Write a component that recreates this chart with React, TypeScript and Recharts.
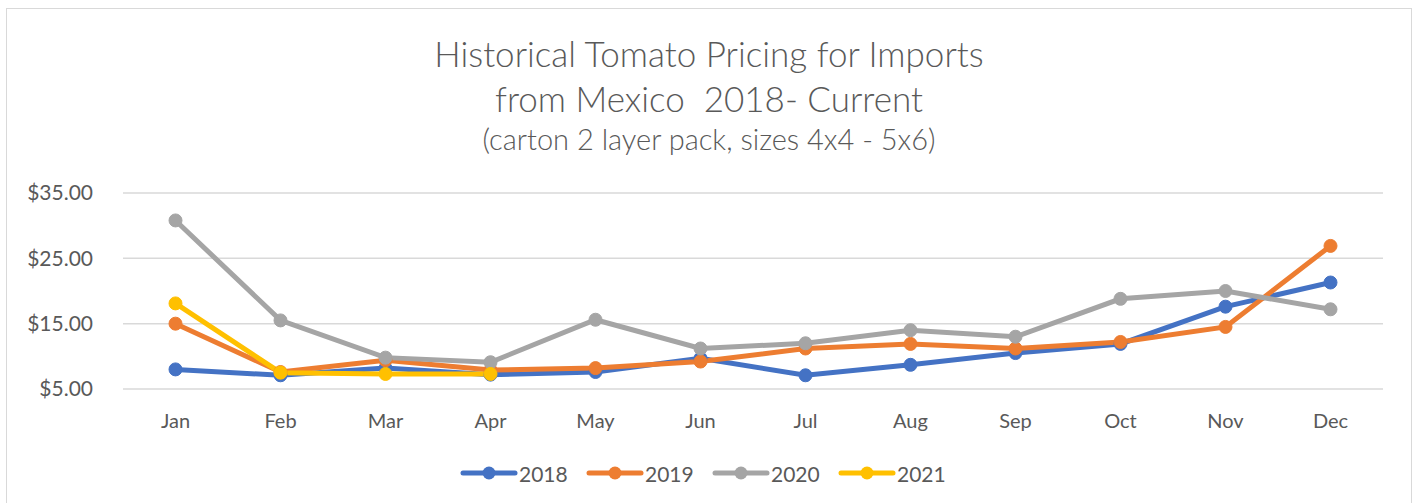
import { CartesianGrid, Line, LineChart, XAxis, YAxis } from "recharts"

const months = ["Jan", "Feb", "Mar", "Apr", "May", "Jun", "Jul", "Aug", "Sep", "Oct", "Nov", "Dec"]

const prices2018 = [8.0, 7.1, 8.2, 7.2, 7.6, 9.7, 7.1, 8.7, 10.5, 11.9, 17.6, 21.3]
const prices2019 = [15.0, 7.6, 9.4, 7.9, 8.2, 9.2, 11.2, 11.9, 11.2, 12.2, 14.5, 26.9]
const prices2020 = [30.8, 15.5, 9.8, 9.1, 15.6, 11.2, 12.0, 14.0, 13.0, 18.8, 20.0, 17.2]
const prices2021 = [18.1, 7.5, 7.3, 7.3, null, null, null, null, null, null, null, null]

const yTicks = [5, 15, 25, 35]

const series = [
  { key: "2018", values: prices2018, color: "#4472C4" },
  { key: "2019", values: prices2019, color: "#ED7D31" },
  { key: "2020", values: prices2020, color: "#A5A5A5" },
  { key: "2021", values: prices2021, color: "#FFC000" },
]

const data = months.map((month, i) => {
  const row: Record<string, string | number | null> = { month }
  series.forEach((s) => {
    row[s.key] = s.values[i]
  })
  return row
})

const font = "Lato, 'Open Sans', sans-serif"
const textColor = "#595959"

function ChartLegend() {
  return (
    <div style={{ position: "absolute", top: 460, left: 460, display: "flex" }}>
      {series.map((s) => (
        <div key={s.key} style={{ display: "flex", alignItems: "center", width: 126 }}>
          <svg width={58} height={26}>
            <line x1={3} y1={13} x2={55} y2={13} stroke={s.color} strokeWidth={5} strokeLinecap="round" />
            <circle cx={29} cy={13} r={6.5} fill={s.color} />
          </svg>
          <span style={{ fontFamily: font, fontSize: 21, color: textColor, marginLeft: 1 }}>{s.key}</span>
        </div>
      ))}
    </div>
  )
}

export default function App() {
  return (
    <div style={{ position: "absolute", left: 0, top: 0, width: 1415, height: 503, background: "#fff", overflow: "hidden" }}>
      <div
        style={{
          position: "absolute",
          left: 6,
          top: 8,
          width: 1404,
          height: 520,
          border: "1px solid #d9d9d9",
        }}
      />
      <div
        style={{
          position: "absolute",
          left: 0,
          top: 30,
          width: 1418,
          textAlign: "center",
          fontFamily: font,
          color: textColor,
          fontWeight: 300,
        }}
      >
        <div style={{ fontSize: 35, lineHeight: "46px" }}>Historical Tomato Pricing for Imports</div>
        <div style={{ fontSize: 35, lineHeight: "44px", whiteSpace: "pre" }}>from Mexico  2018- Current</div>
        <div style={{ fontSize: 29, lineHeight: "38px" }}>(carton 2 layer pack, sizes 4x4 - 5x6)</div>
      </div>
      <div style={{ position: "absolute", left: 0, top: 0 }}>
        <LineChart width={1415} height={503} data={data} margin={{ top: 193, right: 32, bottom: 0, left: 0 }}>
          <CartesianGrid vertical={false} stroke="#d9d9d9" strokeWidth={1.5} />
          <XAxis
            dataKey="month"
            axisLine={false}
            tickLine={false}
            tickSize={0}
            tickMargin={25}
            padding={{ left: 52.5, right: 52.5 }}
            tick={{ fill: textColor, fontSize: 20, fontFamily: font }}
            height={114}
          />
          <YAxis
            domain={[5, 35]}
            ticks={yTicks}
            axisLine={false}
            tickLine={false}
            tickSize={0}
            tickMargin={30}
            width={123}
            tick={{ fill: textColor, fontSize: 21, fontFamily: font }}
            tickFormatter={(v) => `$${Number(v).toFixed(2)}`}
          />
          {series.map((s) => (
            <Line
              key={s.key}
              type="linear"
              dataKey={s.key}
              stroke={s.color}
              strokeWidth={5}
              dot={{ r: 6.5, fill: s.color, stroke: s.color, strokeWidth: 1 }}
              activeDot={false}
              connectNulls={false}
              isAnimationActive={false}
            />
          ))}
        </LineChart>
      </div>
      <ChartLegend />
    </div>
  )
}
